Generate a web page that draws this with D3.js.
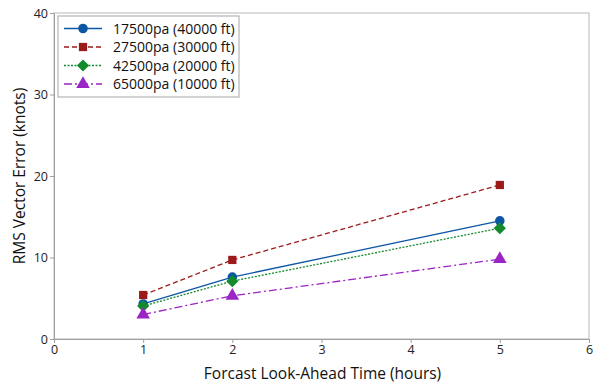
<!DOCTYPE html>
<html>
<head>
<meta charset="utf-8">
<script src="https://cdn.jsdelivr.net/npm/d3@7"></script>
<style>
  body { margin: 0; background: #fff; }
  svg { font-family: "Open Sans", "Noto Sans", sans-serif; }
</style>
</head>
<body>
<div id="chart"></div>
<script>
const hours = [1, 2, 5];
const s17500 = [4.3, 7.6, 14.5];
const s27500 = [5.4, 9.7, 18.9];
const s42500 = [4.05, 7.1, 13.6];
const s65000 = [3.0, 5.3, 9.8];
const seriesNames = ['17500pa (40000 ft)', '27500pa (30000 ft)', '42500pa (20000 ft)', '65000pa (10000 ft)'];
const xTicks = [0, 1, 2, 3, 4, 5, 6];
const yTicks = [0, 10, 20, 30, 40];

const width = 601, height = 383;
const margin = {left: 54, right: 12, top: 13, bottom: 44};

const series = [
  {name: seriesNames[0], values: s17500, color: '#0b57a4', dash: null, sym: d3.symbolCircle, size: 72},
  {name: seriesNames[1], values: s27500, color: '#9c1a1a', dash: '5,3', sym: d3.symbolSquare, size: 68},
  {name: seriesNames[2], values: s42500, color: '#148a2c', dash: '2,1.5', sym: d3.symbolDiamond2, size: 95},
  {name: seriesNames[3], values: s65000, color: '#9a24c4', dash: '8,3,2,3', sym: d3.symbolTriangle, size: 80}
];

const svg = d3.select('#chart').append('svg')
  .attr('width', width)
  .attr('height', height);

const x = d3.scaleLinear().domain([0, 6]).range([margin.left, width - margin.right]);
const y = d3.scaleLinear().domain([0, 40]).range([height - margin.bottom, margin.top]);

// frame
svg.append('rect')
  .attr('x', x(0)).attr('y', y(40))
  .attr('width', x(6) - x(0)).attr('height', y(0) - y(40))
  .attr('fill', 'none').attr('stroke', '#c8c8c8').attr('stroke-width', 1.3);

const xAxis = svg.append('g')
  .attr('transform', `translate(0,${y(0)})`)
  .call(d3.axisBottom(x).tickValues(xTicks).tickFormat(d3.format('d')).tickSize(4).tickPadding(2));
const yAxis = svg.append('g')
  .attr('transform', `translate(${x(0)},0)`)
  .call(d3.axisLeft(y).tickValues(yTicks).tickFormat(d3.format('d')).tickSize(4).tickPadding(2));

[xAxis, yAxis].forEach(g => {
  g.select('.domain').attr('stroke', '#a0a0a0');
  g.selectAll('.tick line').attr('stroke', '#a0a0a0');
  g.selectAll('.tick text').attr('font-size', 12.5).attr('fill', '#222')
    .style('font-family', '"Open Sans", sans-serif');
});

svg.append('text')
  .attr('x', (x(0) + x(6)) / 2 + 1).attr('y', 379)
  .attr('text-anchor', 'middle').attr('font-size', 15.5).attr('font-weight', 500).attr('fill', '#111')
  .text('Forcast Look-Ahead Time (hours)');

svg.append('text')
  .attr('transform', `translate(25,${(y(0) + y(40)) / 2}) rotate(-90)`)
  .attr('text-anchor', 'middle').attr('font-size', 15.5).attr('font-weight', 500).attr('fill', '#111')
  .text('RMS Vector Error (knots)');

const line = d3.line().x((d, i) => x(hours[i])).y(d => y(d));

series.forEach(s => {
  svg.append('path')
    .datum(s.values)
    .attr('d', line)
    .attr('fill', 'none')
    .attr('stroke', s.color)
    .attr('stroke-width', 1.3)
    .attr('stroke-dasharray', s.dash);
  svg.selectAll(null)
    .data(s.values)
    .enter()
    .append('path')
    .attr('d', d3.symbol().type(s.sym).size(s.size))
    .attr('transform', (d, i) => `translate(${x(hours[i])},${y(d)})`)
    .attr('fill', s.color);
});

// legend
const lg = svg.append('g').attr('transform', 'translate(58,16)');
lg.append('rect')
  .attr('width', 181).attr('height', 81)
  .attr('fill', '#fff').attr('stroke', '#b4b4b4').attr('stroke-width', 1.2);
series.forEach((s, i) => {
  const row = lg.append('g').attr('transform', `translate(0,${12.5 + i * 18.5})`);
  row.append('line')
    .attr('x1', 6).attr('x2', 44)
    .attr('stroke', s.color).attr('stroke-width', 1.3)
    .attr('stroke-dasharray', s.dash);
  row.append('path')
    .attr('d', d3.symbol().type(s.sym).size(s.size))
    .attr('transform', 'translate(25,0)')
    .attr('fill', s.color);
  row.append('text')
    .attr('x', 55).attr('y', 5)
    .attr('font-size', 14).attr('font-weight', 500).attr('fill', '#111')
    .text(s.name);
});
</script>
</body>
</html>
